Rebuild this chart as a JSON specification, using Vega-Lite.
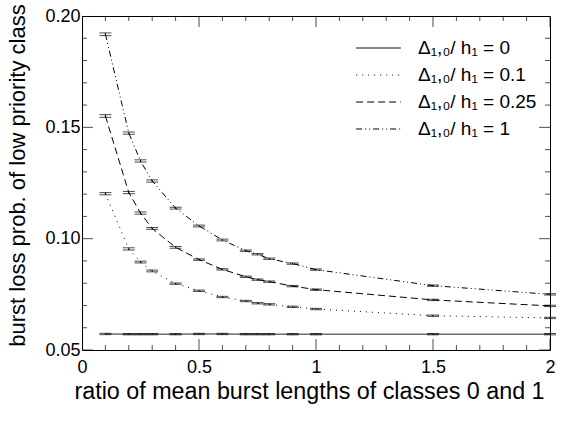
{
  "$schema": "https://vega.github.io/schema/vega-lite/v6.json",
  "width": 468,
  "height": 334,
  "autosize": "none",
  "padding": {"left": 82, "top": 16, "right": 16, "bottom": 71},
  "config": {
    "view": {"stroke": "black", "strokeWidth": 1},
    "font": "Liberation Sans",
    "axis": {"zindex": 1, "domain": false, "ticks": false, "grid": false, "labelColor": "black", "titleColor": "black", "labelFont": "Liberation Sans", "titleFont": "Liberation Sans", "titleFontWeight": "normal", "labelFontSize": 18, "titleFontSize": 23}
  },
  "datasets": {
    "main": [
      {"s": "0", "x": 0.1, "y": 0.0572, "e": 0.0003},
      {"s": "0", "x": 0.2, "y": 0.0571, "e": 0.0003},
      {"s": "0", "x": 0.25, "y": 0.0571, "e": 0.0003},
      {"s": "0", "x": 0.3, "y": 0.0571, "e": 0.0003},
      {"s": "0", "x": 0.4, "y": 0.0571, "e": 0.0003},
      {"s": "0", "x": 0.5, "y": 0.0572, "e": 0.0003},
      {"s": "0", "x": 0.6, "y": 0.0572, "e": 0.0003},
      {"s": "0", "x": 0.7, "y": 0.0571, "e": 0.0003},
      {"s": "0", "x": 0.75, "y": 0.0571, "e": 0.0003},
      {"s": "0", "x": 0.8, "y": 0.0571, "e": 0.0003},
      {"s": "0", "x": 0.9, "y": 0.0571, "e": 0.0003},
      {"s": "0", "x": 1.0, "y": 0.0571, "e": 0.0003},
      {"s": "0", "x": 1.5, "y": 0.0571, "e": 0.0003},
      {"s": "0", "x": 2.0, "y": 0.0571, "e": 0.0003},
      {"s": "0.1", "x": 0.1, "y": 0.1202, "e": 0.0005},
      {"s": "0.1", "x": 0.2, "y": 0.0954, "e": 0.0005},
      {"s": "0.1", "x": 0.25, "y": 0.0895, "e": 0.0004},
      {"s": "0.1", "x": 0.3, "y": 0.0855, "e": 0.0004},
      {"s": "0.1", "x": 0.4, "y": 0.0798, "e": 0.0003},
      {"s": "0.1", "x": 0.5, "y": 0.0766, "e": 0.0003},
      {"s": "0.1", "x": 0.6, "y": 0.0738, "e": 0.0003},
      {"s": "0.1", "x": 0.7, "y": 0.0720, "e": 0.0003},
      {"s": "0.1", "x": 0.75, "y": 0.0710, "e": 0.0003},
      {"s": "0.1", "x": 0.8, "y": 0.0705, "e": 0.0003},
      {"s": "0.1", "x": 0.9, "y": 0.0694, "e": 0.0003},
      {"s": "0.1", "x": 1.0, "y": 0.0684, "e": 0.0003},
      {"s": "0.1", "x": 1.5, "y": 0.0654, "e": 0.0003},
      {"s": "0.1", "x": 2.0, "y": 0.0644, "e": 0.0003},
      {"s": "0.25", "x": 0.1, "y": 0.1551, "e": 0.0006},
      {"s": "0.25", "x": 0.2, "y": 0.1207, "e": 0.0005},
      {"s": "0.25", "x": 0.25, "y": 0.1115, "e": 0.0005},
      {"s": "0.25", "x": 0.3, "y": 0.1046, "e": 0.0004},
      {"s": "0.25", "x": 0.4, "y": 0.0961, "e": 0.0004},
      {"s": "0.25", "x": 0.5, "y": 0.0906, "e": 0.0003},
      {"s": "0.25", "x": 0.6, "y": 0.0862, "e": 0.0003},
      {"s": "0.25", "x": 0.7, "y": 0.0829, "e": 0.0003},
      {"s": "0.25", "x": 0.75, "y": 0.0816, "e": 0.0003},
      {"s": "0.25", "x": 0.8, "y": 0.0807, "e": 0.0003},
      {"s": "0.25", "x": 0.9, "y": 0.0787, "e": 0.0003},
      {"s": "0.25", "x": 1.0, "y": 0.0771, "e": 0.0003},
      {"s": "0.25", "x": 1.5, "y": 0.0725, "e": 0.0003},
      {"s": "0.25", "x": 2.0, "y": 0.0698, "e": 0.0003},
      {"s": "1", "x": 0.1, "y": 0.1918, "e": 0.0006},
      {"s": "1", "x": 0.2, "y": 0.1474, "e": 0.0005},
      {"s": "1", "x": 0.25, "y": 0.1349, "e": 0.0005},
      {"s": "1", "x": 0.3, "y": 0.1259, "e": 0.0005},
      {"s": "1", "x": 0.4, "y": 0.1137, "e": 0.0004},
      {"s": "1", "x": 0.5, "y": 0.1057, "e": 0.0004},
      {"s": "1", "x": 0.6, "y": 0.0994, "e": 0.0004},
      {"s": "1", "x": 0.7, "y": 0.0946, "e": 0.0003},
      {"s": "1", "x": 0.75, "y": 0.0930, "e": 0.0003},
      {"s": "1", "x": 0.8, "y": 0.0910, "e": 0.0003},
      {"s": "1", "x": 0.9, "y": 0.0888, "e": 0.0003},
      {"s": "1", "x": 1.0, "y": 0.0861, "e": 0.0003},
      {"s": "1", "x": 1.5, "y": 0.0789, "e": 0.0003},
      {"s": "1", "x": 2.0, "y": 0.0750, "e": 0.0003}
    ],
    "xmajor": [{"x": 0}, {"x": 0.5}, {"x": 1.0}, {"x": 1.5}, {"x": 2.0}],
    "xminor": [{"x": 0.1}, {"x": 0.2}, {"x": 0.3}, {"x": 0.4}, {"x": 0.6}, {"x": 0.7}, {"x": 0.8}, {"x": 0.9},
               {"x": 1.1}, {"x": 1.2}, {"x": 1.3}, {"x": 1.4}, {"x": 1.6}, {"x": 1.7}, {"x": 1.8}, {"x": 1.9}],
    "ymajor": [{"y": 0.05}, {"y": 0.10}, {"y": 0.15}, {"y": 0.20}],
    "yminor": [{"y": 0.06}, {"y": 0.07}, {"y": 0.08}, {"y": 0.09}, {"y": 0.11}, {"y": 0.12}, {"y": 0.13}, {"y": 0.14},
               {"y": 0.16}, {"y": 0.17}, {"y": 0.18}, {"y": 0.19}]
  },
  "layer": [
    {
      "data": {"name": "main"},
      "mark": {"type": "line", "color": "black", "strokeWidth": 1},
      "encoding": {
        "x": {"field": "x", "type": "quantitative",
          "scale": {"domain": [0, 2], "nice": false, "zero": false},
          "axis": {"orient": "bottom", "values": [0, 0.5, 1, 1.5, 2], "format": "~g", "ticks": false, "grid": false,
            "labelPadding": 8, "labelOverlap": false, "labelFlush": false,
            "title": "ratio of mean burst lengths of classes 0 and 1", "titleFontSize": 23.3, "titlePadding": 4, "titleX": 227}},
        "y": {"field": "y", "type": "quantitative",
          "scale": {"domain": [0.05, 0.2], "nice": false, "zero": false},
          "axis": {"orient": "left", "values": [0.05, 0.1, 0.15, 0.2], "format": ".2f", "ticks": false, "grid": false,
            "labelPadding": 2, "labelOverlap": false, "labelFlush": false,
            "title": "burst loss prob. of low priority class", "titleFontSize": 22, "titlePadding": 15, "titleY": 159}},
        "strokeDash": {"field": "s", "type": "nominal",
          "scale": {"domain": ["0", "0.1", "0.25", "1"], "range": [[1, 0], [1, 5], [7, 4], [6, 3, 1, 3, 1, 3]]},
          "legend": {"orient": "none", "legendX": 287, "legendY": 22.5, "title": null,
            "symbolType": "M-4,0H4", "symbolSize": 125, "symbolStrokeColor": "black", "symbolStrokeWidth": 1,
            "labelFont": "Liberation Sans", "labelFontSize": 19, "labelColor": "black", "labelOffset": 30, "rowPadding": 7,
            "labelExpr": "'Δ₁,₀/ h₁ = ' + datum.label"}}
      }
    },
    {
      "data": {"name": "main"},
      "mark": {"type": "errorbar", "color": "black", "ticks": {"size": 12, "color": "black"}, "rule": {"color": "black"}},
      "encoding": {
        "x": {"field": "x", "type": "quantitative", "axis": null},
        "y": {"field": "y", "type": "quantitative", "axis": null},
        "yError": {"field": "e"}
      }
    },
    {
      "data": {"name": "xmajor"},
      "mark": {"type": "tick", "orient": "vertical", "color": "black", "thickness": 1, "size": 22, "clip": true},
      "encoding": {
        "x": {"field": "x", "type": "quantitative", "axis": null},
        "y": {"datum": 0.05, "type": "quantitative", "axis": null}
      }
    },
    {
      "data": {"name": "xmajor"},
      "mark": {"type": "tick", "orient": "vertical", "color": "black", "thickness": 1, "size": 22, "clip": true},
      "encoding": {
        "x": {"field": "x", "type": "quantitative", "axis": null},
        "y": {"datum": 0.2, "type": "quantitative", "axis": null}
      }
    },
    {
      "data": {"name": "xminor"},
      "mark": {"type": "tick", "orient": "vertical", "color": "black", "thickness": 1, "size": 10, "clip": true},
      "encoding": {
        "x": {"field": "x", "type": "quantitative", "axis": null},
        "y": {"datum": 0.05, "type": "quantitative", "axis": null}
      }
    },
    {
      "data": {"name": "xminor"},
      "mark": {"type": "tick", "orient": "vertical", "color": "black", "thickness": 1, "size": 10, "clip": true},
      "encoding": {
        "x": {"field": "x", "type": "quantitative", "axis": null},
        "y": {"datum": 0.2, "type": "quantitative", "axis": null}
      }
    },
    {
      "data": {"name": "ymajor"},
      "mark": {"type": "tick", "orient": "horizontal", "color": "black", "thickness": 1, "size": 22, "clip": true},
      "encoding": {
        "y": {"field": "y", "type": "quantitative", "axis": null},
        "x": {"datum": 0, "type": "quantitative", "axis": null}
      }
    },
    {
      "data": {"name": "ymajor"},
      "mark": {"type": "tick", "orient": "horizontal", "color": "black", "thickness": 1, "size": 22, "clip": true},
      "encoding": {
        "y": {"field": "y", "type": "quantitative", "axis": null},
        "x": {"datum": 2, "type": "quantitative", "axis": null}
      }
    },
    {
      "data": {"name": "yminor"},
      "mark": {"type": "tick", "orient": "horizontal", "color": "black", "thickness": 1, "size": 10, "clip": true},
      "encoding": {
        "y": {"field": "y", "type": "quantitative", "axis": null},
        "x": {"datum": 0, "type": "quantitative", "axis": null}
      }
    },
    {
      "data": {"name": "yminor"},
      "mark": {"type": "tick", "orient": "horizontal", "color": "black", "thickness": 1, "size": 10, "clip": true},
      "encoding": {
        "y": {"field": "y", "type": "quantitative", "axis": null},
        "x": {"datum": 2, "type": "quantitative", "axis": null}
      }
    }
  ],
  "resolve": {"axis": {"x": "independent", "y": "independent"}}
}
